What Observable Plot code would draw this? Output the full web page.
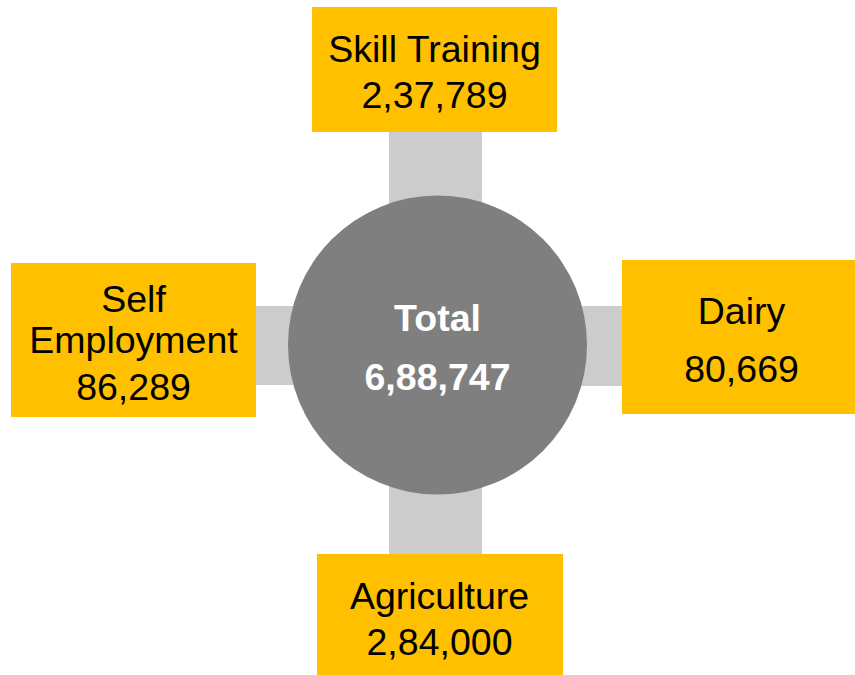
<!DOCTYPE html>
<html><head><meta charset="utf-8">
<script src="https://cdn.jsdelivr.net/npm/d3@7"></script>
<script src="https://cdn.jsdelivr.net/npm/@observablehq/plot@0.6"></script>
<style>body{margin:0;background:#fff}</style>
</head><body><div id="chart"></div>
<script>
// ---- data ----
const categories = ["Skill Training", "Dairy", "Agriculture", "Self Employment"];
const values = [237789, 80669, 284000, 86289];
const totalLabel = "Total";
const totalValue = 688747;

// ---- layout (pixel units on identity scales) ----
const boxX1 = [312, 622, 317, 11];
const boxX2 = [557, 855, 563, 256];
const boxY1 = [7, 260, 554, 263];
const boxY2 = [132, 414, 675, 417];
const connX1 = [389, 560, 389, 240];
const connX2 = [482, 622, 482, 310];
const connY1 = [120, 306, 430, 306];
const connY2 = [260, 386, 554, 385];
const textX = [434, 741, 439, 133];
const wrapLabel = [false, false, false, true];
const baselines = [[61, 107], [323, 381], [608, 654], [311, 352, 399]];
const hub = {x: 437, y: 344.5, r: 149.5, labelY: 330, valueY: 389};

const fmt = new Intl.NumberFormat("en-IN");
const nodes = categories.map((c, i) => ({
  category: c, value: values[i],
  bx1: boxX1[i], bx2: boxX2[i], by1: boxY1[i], by2: boxY2[i],
  cx1: connX1[i], cx2: connX2[i], cy1: connY1[i], cy2: connY2[i]
}));
const textRows = [];
categories.forEach((c, i) => {
  const lines = (wrapLabel[i] ? c.split(" ") : [c]).concat([fmt.format(values[i])]);
  lines.forEach((t, j) => textRows.push({text: t, x: textX[i], y: baselines[i][j]}));
});
const hubRows = [
  {text: totalLabel, x: hub.x, y: hub.labelY},
  {text: fmt.format(totalValue), x: hub.x, y: hub.valueY}
];

const font = "'Liberation Sans', Arial, Helvetica, sans-serif";
const chart = Plot.plot({
  width: 855, height: 675,
  margin: 0,
  x: {type: "linear", domain: [0, 855], range: [0, 855], axis: null},
  y: {type: "linear", domain: [0, 675], range: [0, 675], axis: null},
  style: {background: "#ffffff", fontFamily: font},
  marks: [
    Plot.rect(nodes, {x1: "cx1", x2: "cx2", y1: "cy1", y2: "cy2", fill: "#cccccc"}),
    Plot.dot([hub], {x: "x", y: "y", r: hub.r, fill: "#7f7f7f", stroke: "none"}),
    Plot.rect(nodes, {x1: "bx1", x2: "bx2", y1: "by1", y2: "by2", fill: "#ffc000"}),
    Plot.text(textRows, {x: "x", y: "y", text: "text", fill: "#000000", fontSize: 37.5,
      fontFamily: font, textAnchor: "middle", lineAnchor: "bottom"}),
    Plot.text(hubRows, {x: "x", y: "y", text: "text", fill: "#ffffff", fontSize: 37.5,
      fontWeight: "bold", fontFamily: font, textAnchor: "middle", lineAnchor: "bottom"})
  ]
});
document.getElementById("chart").appendChild(chart);
</script>
</body></html>
